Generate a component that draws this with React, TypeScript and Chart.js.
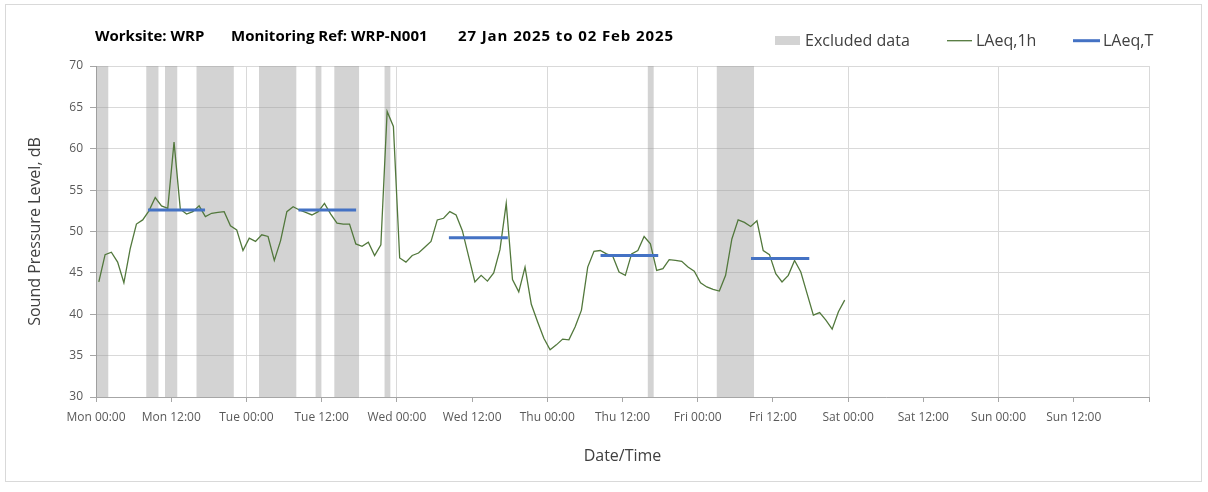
import React, { useEffect, useRef } from 'react';
import { Chart, registerables } from 'chart.js';

Chart.register(...registerables);

// ---------- data ----------
const TITLE_PARTS = ['Worksite: WRP', 'Monitoring Ref: WRP-N001', '27 Jan 2025 to 02 Feb 2025'];
const X_TICK_LABELS = [
  'Mon 00:00', 'Mon 12:00', 'Tue 00:00', 'Tue 12:00', 'Wed 00:00', 'Wed 12:00', 'Thu 00:00',
  'Thu 12:00', 'Fri 00:00', 'Fri 12:00', 'Sat 00:00', 'Sat 12:00', 'Sun 00:00', 'Sun 12:00', '',
];
const X_MAX_H = 168;
const X_STEP_H = 12;
const Y_MIN = 30;
const Y_MAX = 70;
const Y_STEP = 5;

// hourly LAeq,1h values (hours from Mon 00:00)
const FIRST_POINT_H = 0.45;
const LAEQ_1H = [
  43.9, 47.2, 47.5, 46.3, 43.8, 47.9, 50.9, 51.4, 52.5, 54.1,
  53.1, 52.8, 60.8, 52.7, 52.1, 52.4, 53.1, 51.8, 52.2, 52.3,
  52.4, 50.7, 50.2, 47.7, 49.2, 48.8, 49.6, 49.4, 46.5, 48.9,
  52.4, 53.0, 52.6, 52.3, 52.0, 52.4, 53.4, 52.1, 51.0, 50.9,
  50.9, 48.5, 48.2, 48.7, 47.1, 48.4, 64.5, 62.7, 46.8, 46.3,
  47.1, 47.4, 48.1, 48.8, 51.4, 51.6, 52.4, 52.0, 50.1, 47.0,
  43.9, 44.7, 44.0, 45.0, 47.8, 53.4, 44.2, 42.7, 45.7, 41.2,
  39.1, 37.1, 35.7, 36.3, 37.0, 36.9, 38.5, 40.5, 45.7, 47.6,
  47.7, 47.3, 47.0, 45.1, 44.7, 47.3, 47.7, 49.4, 48.5, 45.3,
  45.5, 46.6, 46.5, 46.4, 45.7, 45.2, 43.8, 43.3, 43.0, 42.8,
  44.7, 49.1, 51.4, 51.1, 50.6, 51.3, 47.7, 47.2, 44.9, 43.9,
  44.7, 46.5, 45.1, 42.5, 39.9, 40.2, 39.3, 38.2, 40.3, 41.7,
];

// excluded data periods (hours from Mon 00:00)
const EXCL_START = [0, 8, 11, 16, 26, 35, 38, 46, 88, 99];
const EXCL_END = [2, 10, 13, 22, 32, 36, 42, 47, 89, 105];

// LAeq,T periods
const LAEQT_START = [8.3, 32.3, 56.3, 80.5, 104.5];
const LAEQT_END = [17.4, 41.5, 65.7, 89.7, 113.8];
const LAEQT_VALUE = [52.6, 52.6, 49.25, 47.1, 46.75];

// ---------- styles ----------
const FONT = '"Open Sans", "DejaVu Sans", sans-serif';
const GREEN = '#52783c';
const BLUE = '#4472C4';
const EXCL_FILL = 'rgba(150,150,150,0.42)';
const GRID = '#d9d9d9';
const AXIS = '#a6a6a6';

const CANVAS_W = 1195;
const CANVAS_H = 476;

const overlayPlugin = {
  id: 'overlay',
  afterDraw(chart: any) {
    const ctx = chart.ctx as any;
    ctx.save();
    ctx.textBaseline = 'middle';
    ctx.textAlign = 'left';
    // title
    ctx.fillStyle = '#000000';
    ctx.font = `bold 15px ${FONT}`;
    const titleX = [89, 225, 452];
    const titleSpacing = ['0px', '0px', '0.9px'];
    TITLE_PARTS.forEach((t, i) => {
      ctx.letterSpacing = titleSpacing[i];
      ctx.fillText(t, titleX[i], 32);
    });
    ctx.letterSpacing = '0px';

    // legend
    const ds = chart.data.datasets;
    ctx.font = `16px ${FONT}`;
    // excluded box
    ctx.fillStyle = '#d3d3d3';
    ctx.fillRect(769, 31, 25, 9);
    ctx.fillStyle = '#404040';
    ctx.fillText(ds[0].label, 799, 36);
    // LAeq,1h
    ctx.strokeStyle = ds[1].borderColor;
    ctx.lineWidth = 1.3;
    ctx.beginPath();
    ctx.moveTo(941, 35.7);
    ctx.lineTo(966, 35.7);
    ctx.stroke();
    ctx.fillText(ds[1].label, 970, 36);
    // LAeq,T
    ctx.strokeStyle = ds[2].borderColor;
    ctx.lineWidth = 3;
    ctx.beginPath();
    ctx.moveTo(1067, 35.7);
    ctx.lineTo(1094, 35.7);
    ctx.stroke();
    ctx.fillText(ds[2].label, 1097, 36);
    ctx.restore();
  },
};

export default function App() {
  const canvasRef = useRef<HTMLCanvasElement | null>(null);

  useEffect(() => {
    if (!canvasRef.current) return;

    const exclData: any[] = [];
    EXCL_START.forEach((s, i) => {
      exclData.push({ x: s, y: Y_MAX });
      exclData.push({ x: EXCL_END[i], y: Y_MAX });
      exclData.push({ x: EXCL_END[i], y: null });
    });

    const laeqTData: any[] = [];
    LAEQT_START.forEach((s, i) => {
      laeqTData.push({ x: s, y: LAEQT_VALUE[i] });
      laeqTData.push({ x: LAEQT_END[i], y: LAEQT_VALUE[i] });
      laeqTData.push({ x: LAEQT_END[i], y: null });
    });

    const laeq1hData = LAEQ_1H.map((v, i) => ({ x: FIRST_POINT_H + i, y: v }));

    const chart = new Chart(canvasRef.current, {
      type: 'line',
      data: {
        datasets: [
          {
            label: 'Excluded data',
            data: exclData,
            borderWidth: 0,
            borderColor: 'rgba(0,0,0,0)',
            backgroundColor: EXCL_FILL,
            fill: 'start',
            pointRadius: 0,
            spanGaps: false,
            order: 3,
          },
          {
            label: 'LAeq,1h',
            data: laeq1hData,
            borderColor: GREEN,
            borderWidth: 1.3,
            pointRadius: 0,
            fill: false,
            tension: 0,
            order: 2,
          },
          {
            label: 'LAeq,T',
            data: laeqTData,
            borderColor: BLUE,
            borderWidth: 3,
            pointRadius: 0,
            fill: false,
            spanGaps: false,
            order: 1,
          },
        ],
      },
      options: {
        responsive: false,
        animation: false,
        events: [],
        layout: { padding: { left: 10, right: 52, top: 61, bottom: 4 } },
        plugins: {
          legend: { display: false },
          title: { display: false },
          tooltip: { enabled: false },
        },
        scales: {
          x: {
            type: 'linear',
            min: 0,
            max: X_MAX_H,
            afterFit: (s: any) => { s.height = 80; },
            ticks: {
              stepSize: X_STEP_H,
              autoSkip: false,
              maxRotation: 0,
              minRotation: 0,
              padding: 8,
              color: '#595959',
              font: { family: FONT, size: 12 },
              callback: (v: any) => X_TICK_LABELS[Math.round(Number(v) / X_STEP_H)] ?? '',
            },
            grid: {
              color: (c: any) => (c.tick && c.tick.value % 24 === 0 ? GRID : 'rgba(0,0,0,0)'),
              tickColor: AXIS,
              tickLength: 5,
              lineWidth: 1,
            },
            border: { color: AXIS, width: 1 },
            title: {
              display: true,
              text: 'Date/Time',
              color: '#404040',
              font: { family: FONT, size: 16 },
              padding: { top: 0, bottom: 10.9 },
            },
          },
          y: {
            min: Y_MIN,
            max: Y_MAX,
            afterFit: (s: any) => { s.width = 80; },
            ticks: {
              stepSize: Y_STEP,
              padding: 7,
              color: '#595959',
              font: { family: FONT, size: 12 },
            },
            grid: {
              color: GRID,
              tickColor: AXIS,
              tickLength: 6,
            },
            border: { color: AXIS, width: 1 },
            title: {
              display: true,
              text: 'Sound Pressure Level, dB',
              color: '#404040',
              font: { family: FONT, size: 16 },
              padding: { top: 9.4, bottom: 0 },
            },
          },
        },
      },
      plugins: [overlayPlugin],
    });

    return () => chart.destroy();
  }, []);

  return (
    <div
      style={{
        position: 'absolute',
        left: 5,
        top: 4,
        width: CANVAS_W + 2,
        height: CANVAS_H + 2,
        border: '1px solid #d9d9d9',
        boxSizing: 'border-box',
        background: '#ffffff',
      }}
    >
      <canvas ref={canvasRef} width={CANVAS_W} height={CANVAS_H} style={{ display: 'block' }} />
    </div>
  );
}
